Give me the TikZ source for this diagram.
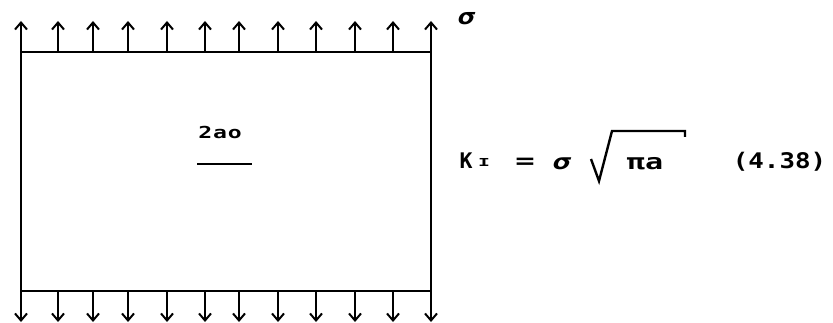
\documentclass[tikz,border=0pt]{standalone}
\usepackage{fontspec}
\setmonofont{DejaVu Sans Mono}
\newfontfamily\eqf{DejaVu Sans Mono}
\usetikzlibrary{arrows.meta}
\tikzset{
  platebox/.style={draw, line width=2pt, minimum width=410pt, minimum height=239pt, inner sep=0pt},
  load/.style={line width=2pt, -{Straight Barb[length=7pt,width=12pt,line width=2pt]}},
  crack/.style={line width=2.2pt},
  eqtext/.style={inner sep=0pt, anchor=base, font=\eqf\bfseries\fontsize{21.5}{23}\selectfont},
  radical/.style={line width=2.4pt, line join=miter},
}
\begin{document}
\begin{tikzpicture}[x=1pt,y=-1pt]
\useasboundingbox (0,0) rectangle (833,323);
\node[platebox] (plate) at (226,171.5) {};
\foreach \x [count=\i] in {21,58,93,128,167,205,239,278,316,355,393,431} {
  \coordinate (t\i) at (\x,52);
  \coordinate (th\i) at (\x,21);
  \draw[load] (t\i) -- (th\i);
  \coordinate (b\i) at (\x,291);
  \coordinate (bh\i) at (\x,322);
  \draw[load] (b\i) -- (bh\i);
}
\node[inner sep=0pt, anchor=base, font=\eqf\bfseries\itshape\fontsize{22}{24}\selectfont] (sigtop) at (467,25) {\scalebox{1.3}[1]{σ}};
% crack
\coordinate (c1) at (197,164);
\coordinate (c2) at (252,164);
\draw[crack] (c1) -- (c2);
\node[inner sep=0pt, anchor=base, font=\eqf\bfseries\fontsize{16.5}{18}\selectfont] (crlabel) at (220,138.5) {\scalebox{1.4}[1]{2\kern0.6pt a\kern0.6pt o}};
% equation
\node[eqtext, anchor=base west] (K) at (459.5,169) {K};
\node[inner sep=0pt, anchor=base, font=\eqf\bfseries\fontsize{11}{12}\selectfont] (Ksub) at (484,166.5) {\scalebox{1.8}[1]{I}};
\node[eqtext] (eqsign) at (525,169) {\scalebox{1.5}[1]{=}};
\node[eqtext, font=\eqf\bfseries\itshape\fontsize{21.5}{23}\selectfont] (sig) at (562.5,169.5) {\scalebox{1.4}[1]{σ}};
\coordinate (r1) at (591,159);
\coordinate (r2) at (599,181);
\coordinate (r3) at (612,131);
\coordinate (r4) at (685,131);
\coordinate (r5) at (685,137);
\draw[radical] (r1) -- (r2) -- (r3) -- (r4) -- (r5);
\node[eqtext] (pia) at (645,169.5) {\scalebox{1.4}[1]{πa}};
\node[eqtext] (eqno) at (779.5,169) {\scalebox{1.2}[1]{(4.38)}};
\end{tikzpicture}
\end{document}
